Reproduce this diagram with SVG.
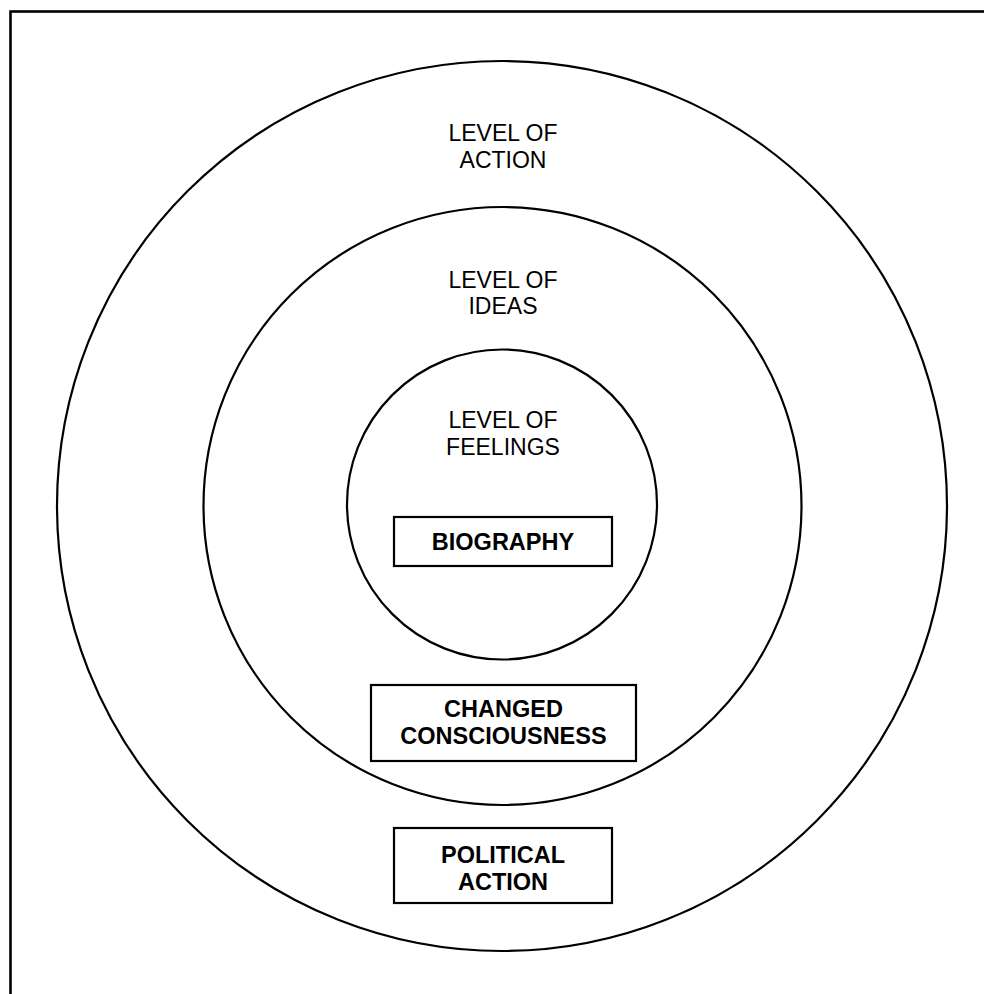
<svg xmlns="http://www.w3.org/2000/svg" width="984" height="994" viewBox="0 0 984 994">
<style>
.ring{fill:none;stroke:#000;stroke-width:2.2}
.box{fill:#fff;stroke:#000;stroke-width:2.2}
.lbl{font-family:"Liberation Sans",Arial,sans-serif;font-size:23px;fill:#000;text-anchor:middle}
.blbl{font-family:"Liberation Sans",Arial,sans-serif;font-size:23.5px;font-weight:bold;fill:#000;text-anchor:middle}
</style>
<rect x="0" y="0" width="984" height="994" fill="#fff"/>
<rect x="10.5" y="11.5" width="1000" height="1000" fill="none" stroke="#000" stroke-width="2.6"/>
<g id="level-action">
<circle class="ring" cx="502" cy="506" r="445"/>
<text class="lbl" x="503" y="141">LEVEL OF</text>
<text class="lbl" x="503" y="168">ACTION</text>
</g>
<g id="level-ideas">
<circle class="ring" cx="502.5" cy="506" r="299"/>
<text class="lbl" x="503" y="288">LEVEL OF</text>
<text class="lbl" x="503" y="314">IDEAS</text>
</g>
<g id="level-feelings">
<circle class="ring" cx="502" cy="504.5" r="155"/>
<text class="lbl" x="503" y="428">LEVEL OF</text>
<text class="lbl" x="503" y="455">FEELINGS</text>
</g>
<g id="biography">
<rect class="box" x="394" y="517" width="218" height="49"/>
<text class="blbl" x="503" y="550">BIOGRAPHY</text>
</g>
<g id="changed-consciousness">
<rect class="box" x="371" y="685" width="265" height="76"/>
<text class="blbl" x="503.5" y="717">CHANGED</text>
<text class="blbl" x="503.5" y="744">CONSCIOUSNESS</text>
</g>
<g id="political-action">
<rect class="box" x="394" y="828" width="218" height="75"/>
<text class="blbl" x="503" y="863">POLITICAL</text>
<text class="blbl" x="503" y="890">ACTION</text>
</g>
<g id="connectors"></g>
</svg>
